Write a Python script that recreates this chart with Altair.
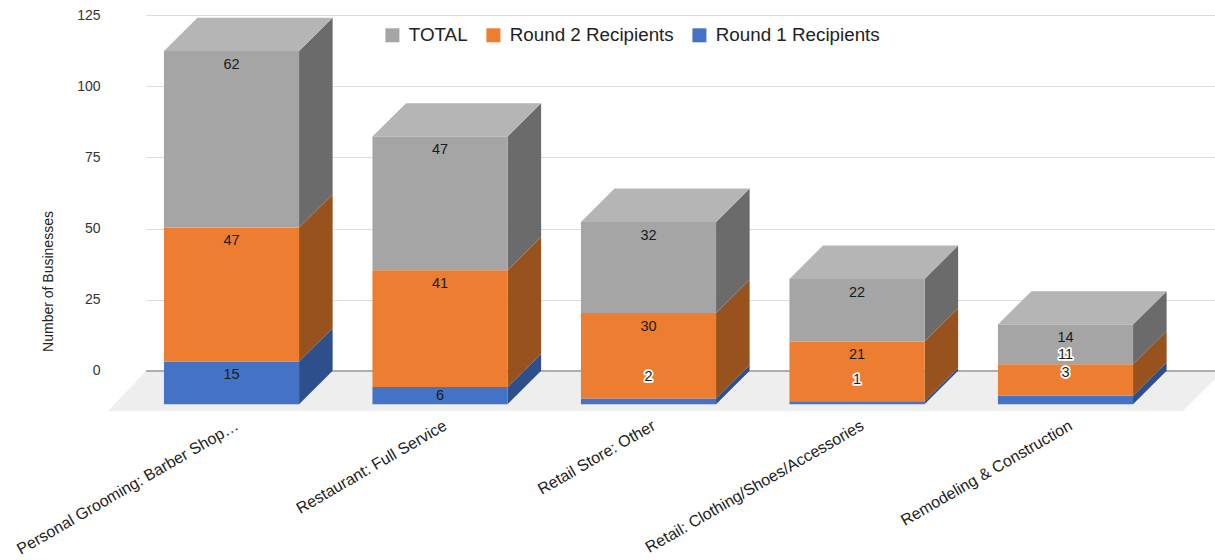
import json
import altair as alt
import pandas as pd

# Category names and the three stacked series
categories = [
    "Personal Grooming: Barber Shop…",
    "Restaurant: Full Service",
    "Retail Store: Other",
    "Retail: Clothing/Shoes/Accessories",
    "Remodeling & Construction",
]
round_1 = [15, 6, 2, 1, 3]
round_2 = [47, 41, 30, 21, 11]
total = [62, 47, 32, 22, 14]

series_names = ["TOTAL", "Round 2 Recipients", "Round 1 Recipients"]
front_colors = ["#a5a5a5", "#ed7d31", "#4472c4"]
side_colors = {"TOTAL": "#6b6b6b", "Round 2 Recipients": "#98521e", "Round 1 Recipients": "#2d4f8c"}
top_color = "#b5b5b5"

# Height above the bar base for the labels that do not sit at their segment's top
label_heights = {(1, "Round 1 Recipients"): 2.8, (2, "Round 1 Recipients"): 9.5,
                 (3, "Round 1 Recipients"): 8.4, (4, "Round 1 Recipients"): 10.9,
                 (4, "Round 2 Recipients"): 17.2}
halo_labels = {(2, "Round 1 Recipients"), (3, "Round 1 Recipients"),
               (4, "Round 1 Recipients"), (4, "Round 2 Recipients")}

# Pseudo-3D geometry in scale units
BASE = -11.66      # front faces stand on the near edge of the floor
DEPTH_Y = 11.7
DEPTH_X = 0.161
BAR_HALF = 0.324
LABEL_DROP = 4.8
X_MIN, X_MAX = -0.4101, 4.717
Y_MIN, Y_MAX = -14.05, 125

front, side, top, labels = [], [], [], []
for i in range(len(categories)):
    left, right = i - BAR_HALF, i + BAR_HALF
    low = BASE
    for name, value in zip(series_names[::-1], (round_1[i], round_2[i], total[i])):
        high = low + value
        front.append(dict(x=left, x2=right, y=low, y2=high, series=name))
        face = f"{i}-{name}"
        side.append(dict(x=right, y=low, y2=high, face=face, shade=side_colors[name]))
        side.append(dict(x=right + DEPTH_X, y=low + DEPTH_Y, y2=high + DEPTH_Y, face=face,
                         shade=side_colors[name]))
        key = (i, name)
        at = BASE + label_heights[key] if key in label_heights else high - LABEL_DROP
        labels.append(dict(x=i, y=at, text=str(value), halo=key in halo_labels))
        low = high
    top.append(dict(x=left, x2=right, y=low, face=str(i)))
    top.append(dict(x=left + DEPTH_X, x2=right + DEPTH_X, y=low + DEPTH_Y, face=str(i)))

floor = pd.DataFrame([
    dict(x=-0.5923, x2=4.564, y=Y_MIN),
    dict(x=X_MIN, x2=4.755, y=0),
])
front, side, top, labels = map(pd.DataFrame, (front, side, top, labels))

FONT = "Liberation Sans"
x_scale = alt.Scale(domain=[X_MIN, X_MAX], nice=False, zero=False)
y_scale = alt.Scale(domain=[Y_MIN, Y_MAX], nice=False, zero=False)
label_expr = f"{json.dumps(categories, ensure_ascii=False)}[datum.value]"

x_axis = alt.Axis(values=list(range(len(categories))), labelExpr=label_expr, labelAngle=-30,
                  labelAlign="right", labelBaseline="middle", labelPadding=13, labelOffset=5,
                  labelFontSize=16, labelFont=FONT, labelColor="#222222", labelLimit=400,
                  labelOverlap=False, labelBound=False, labelFlush=False,
                  ticks=False, domain=False, grid=False, title=None)
y_axis = alt.Axis(values=[0, 25, 50, 75, 100, 125], grid=True, gridColor="#dcdcdc", gridWidth=1,
                  ticks=False, domain=False, labelPadding=46, labelFontSize=14, labelFont=FONT,
                  labelColor="#333333", title="Number of Businesses", titleFont=FONT,
                  titleFontSize=14, titleFontWeight="normal", titleColor="#222222",
                  titleX=-98, titleY=266, titleAlign="center", titleBaseline="middle")

# Every layer shares one axis definition, so the merged chart draws each axis once
X = alt.X("x:Q", scale=x_scale, axis=x_axis, stack=None)
Y = alt.Y("y:Q", scale=y_scale, axis=y_axis, stack=None)

floor_layer = alt.Chart(floor).mark_area(orient="horizontal", color="#eeeeee").encode(
    x=X, x2="x2:Q", y=Y,
)
zero_line = alt.Chart(pd.DataFrame({"y": [0]})).mark_rule(color="#666666", strokeWidth=1).encode(y=Y)
side_layer = alt.Chart(side).mark_area(orient="vertical").encode(
    x=X, y=Y, y2="y2:Q", detail="face:N",
    fill=alt.Fill("shade:N", scale=None),
)
top_layer = alt.Chart(top).mark_area(orient="horizontal", color=top_color).encode(
    x=X, x2="x2:Q", y=Y, detail="face:N",
)
front_layer = alt.Chart(front).mark_rect().encode(
    x=X, x2="x2:Q", y=Y, y2="y2:Q",
    color=alt.Color(
        "series:N",
        scale=alt.Scale(domain=series_names, range=front_colors),
        legend=alt.Legend(orient="none", legendX=237, legendY=10.5, direction="horizontal",
                          columns=3, title=None, symbolType="square", symbolSize=196,
                          symbolStrokeWidth=0, labelFont=FONT, labelFontSize=18.8,
                          labelColor="#222222", labelOffset=7, columnPadding=16, padding=0,
                          labelLimit=300),
    ),
)
halo_layer = alt.Chart(labels[labels["halo"]]).mark_text(
    font=FONT, fontSize=14.5, stroke="white", strokeWidth=3.5, strokeJoin="round", baseline="middle"
).encode(x=X, y=Y, text="text:N")
text_layer = alt.Chart(labels).mark_text(
    font=FONT, fontSize=14.5, color="#1a1a1a", baseline="middle"
).encode(x=X, y=Y, text="text:N")

chart = alt.layer(
    floor_layer, zero_line, side_layer, top_layer, front_layer, halo_layer, text_layer
).properties(
    width=1069,
    height=396,
    autosize=alt.AutoSizeParams(type="none"),
    padding={"left": 146, "top": 15, "right": 0, "bottom": 149},
    background="white",
).configure_view(stroke=None)

chart.save("out.html", embed_options={"renderer": "svg", "actions": False})
